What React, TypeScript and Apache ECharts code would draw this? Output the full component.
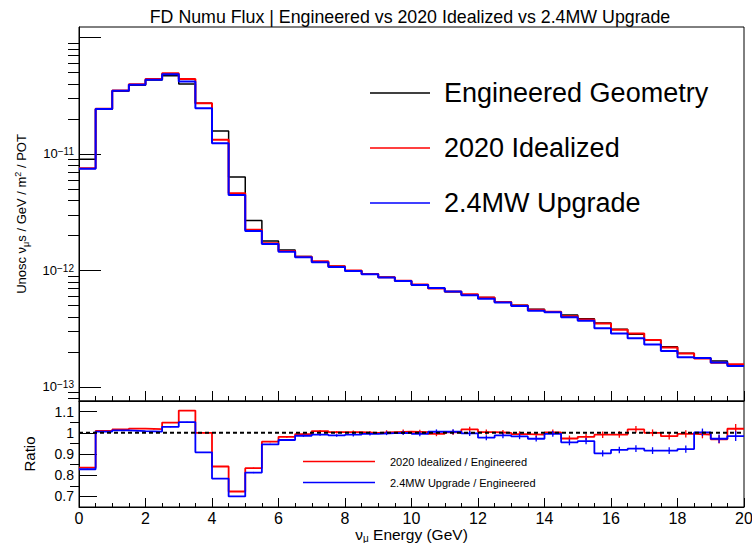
import React, { useEffect, useRef } from "react";
import * as echarts from "echarts";

const FONT = "'Liberation Sans', Arial, Helvetica, sans-serif";
const TITLE = "FD Numu Flux | Engineered vs 2020 Idealized vs 2.4MW Upgrade";

const BIN_WIDTH = 0.5;
const BIN_LOW = [
  0, 0.5, 1, 1.5, 2, 2.5, 3, 3.5, 4, 4.5, 5, 5.5, 6, 6.5, 7, 7.5, 8, 8.5, 9, 9.5,
  10, 10.5, 11, 11.5, 12, 12.5, 13, 13.5, 14, 14.5, 15, 15.5, 16, 16.5, 17, 17.5, 18, 18.5, 19, 19.5,
];

// Engineered geometry flux (nu_mu / GeV / m^2 / POT)
const ENGINEERED = [
  9.0e-12, 2.42e-11, 3.45e-11, 3.89e-11, 4.32e-11, 4.7e-11, 3.99e-11, 2.72e-11, 1.575e-11, 6.35e-12,
  2.68e-12, 1.79e-12, 1.5e-12, 1.32e-12, 1.19e-12, 1.086e-12, 9.97e-13, 9.33e-13, 8.74e-13, 8.13e-13,
  7.55e-13, 7.03e-13, 6.58e-13, 6.16e-13, 5.85e-13, 5.37e-13, 5.03e-13, 4.65e-13, 4.41e-13, 4.15e-13,
  3.86e-13, 3.54e-13, 3.13e-13, 2.83e-13, 2.53e-13, 2.22e-13, 1.95e-13, 1.77e-13, 1.67e-13, 1.54e-13,
];

// Ratio 2020 Idealized / Engineered
const RATIO_IDEALIZED = [
  0.836, 1.009, 1.016, 1.02, 1.017, 1.048, 1.105, 1.0, 0.841, 0.723,
  0.833, 0.958, 0.981, 0.994, 1.008, 1.003, 1.003, 1.0, 1.003, 1.006,
  1.003, 0.995, 1.002, 1.016, 1.003, 1.0, 0.994, 0.991, 1.002, 0.973,
  0.981, 0.991, 0.992, 1.016, 1.0, 0.984, 0.995, 0.992, 0.969, 1.019,
];

// Ratio 2.4MW Upgrade / Engineered
const RATIO_UPGRADE = [
  0.828, 1.006, 1.011, 1.008, 1.006, 1.028, 1.05, 0.908, 0.784, 0.7,
  0.8125, 0.945, 0.966, 0.986, 0.991, 0.9875, 0.991, 0.995, 0.998, 1.0,
  0.995, 1.005, 1.005, 0.997, 0.977, 0.9875, 0.983, 0.972, 0.995, 0.955,
  0.961, 0.903, 0.919, 0.925, 0.916, 0.916, 0.923, 1.002, 0.972, 0.984,
];

// statistical uncertainty on the ratios
const RATIO_ERR = [
  0.002, 0.002, 0.002, 0.002, 0.002, 0.002, 0.002, 0.002, 0.002, 0.002,
  0.003, 0.003, 0.004, 0.005, 0.005, 0.006, 0.008, 0.008, 0.009, 0.01,
  0.011, 0.011, 0.012, 0.012, 0.012, 0.013, 0.013, 0.013, 0.014, 0.014,
  0.015, 0.015, 0.015, 0.016, 0.016, 0.016, 0.017, 0.018, 0.02, 0.023,
];

const SERIES_NAMES = ["Engineered Geometry", "2020 Idealized", "2.4MW Upgrade"];
const RATIO_NAMES = ["2020 Idealized / Engineered", "2.4MW Upgrade / Engineered"];
const COLORS = ["#000000", "#ff0000", "#0000ff"];

const LOG_MAJOR = [1e-13, 1e-12, 1e-11, 1e-10];
const LOG_LABELED = [1e-13, 1e-12, 1e-11];
const LOG_MINOR = [
  8e-14, 9e-14,
  2e-13, 3e-13, 4e-13, 5e-13, 6e-13, 7e-13, 8e-13, 9e-13,
  2e-12, 3e-12, 4e-12, 5e-12, 6e-12, 7e-12, 8e-12, 9e-12,
  2e-11, 3e-11, 4e-11, 5e-11, 6e-11, 7e-11, 8e-11, 9e-11,
];
const RATIO_MAJOR = [0.7, 0.8, 0.9, 1, 1.1];
const RATIO_MINOR = [0.75, 0.85, 0.95, 1.05];

function stepData(values: number[]) {
  const d: number[][] = values.map((v, i) => [BIN_LOW[i], v]);
  d.push([BIN_LOW[BIN_LOW.length - 1] + BIN_WIDTH, values[values.length - 1]]);
  return d;
}

function errorSeries(values: number[], color: string) {
  return {
    type: "custom",
    xAxisIndex: 1,
    yAxisIndex: 2,
    silent: true,
    z: 3,
    encode: { x: 0, y: 1 },
    data: values.map((v, i) => [BIN_LOW[i] + BIN_WIDTH / 2, v, RATIO_ERR[i]]),
    renderItem: (params: any, api: any) => {
      const x = api.value(0);
      const y = api.value(1);
      const e = api.value(2);
      const p1 = api.coord([x, y - e]);
      const p2 = api.coord([x, y + e]);
      return {
        type: "line",
        shape: { x1: p1[0], y1: p1[1], x2: p2[0], y2: p2[1] },
        style: { stroke: color, lineWidth: 1.3 },
      };
    },
  };
}

const axisLineStyle = { show: true, onZero: false, lineStyle: { color: "#000", width: 1 } };

export default function App() {
  const ref = useRef<HTMLDivElement>(null);
  useEffect(() => {
    if (!ref.current) return;
    const chart = echarts.init(ref.current, null, { renderer: "svg" });
    const fluxes = [
      ENGINEERED,
      ENGINEERED.map((v, i) => v * RATIO_IDEALIZED[i]),
      ENGINEERED.map((v, i) => v * RATIO_UPGRADE[i]),
    ];
    const option: any = {
      animation: false,
      backgroundColor: "#ffffff",
      textStyle: { fontFamily: FONT },
      graphic: [
        {
          type: "text",
          x: 410,
          y: 17,
          style: {
            text: TITLE,
            fontSize: 17.8,
            fontFamily: FONT,
            fill: "#000",
            align: "center",
            verticalAlign: "middle",
          },
        },
      ],
      grid: [
        { left: 79, top: 27, width: 665, height: 374, show: true, borderColor: "#000", borderWidth: 1, backgroundColor: "transparent", containLabel: false, outerBoundsMode: "none" },
        { left: 79, top: 401, width: 665, height: 106, show: true, borderColor: "#000", borderWidth: 1, backgroundColor: "transparent", containLabel: false, outerBoundsMode: "none" },
      ],
      legend: [
        {
          data: SERIES_NAMES,
          orient: "vertical",
          left: 370,
          top: 78,
          padding: 0,
          itemWidth: 60,
          itemHeight: 1.3,
          itemGap: 25,
          icon: "rect",
          selectedMode: false,
          textStyle: { fontSize: 27, lineHeight: 30, color: "#000", fontFamily: FONT, padding: [0, 0, 0, 9] },
        },
        {
          data: RATIO_NAMES,
          orient: "vertical",
          left: 303,
          top: 455,
          padding: 0,
          itemWidth: 72,
          itemHeight: 1.3,
          itemGap: 8,
          icon: "rect",
          selectedMode: false,
          textStyle: { fontSize: 11, lineHeight: 13, color: "#000", fontFamily: FONT, padding: [0, 0, 0, 10] },
        },
      ],
      xAxis: [
        {
          gridIndex: 0,
          type: "value",
          min: 0,
          max: 20,
          interval: 2,
          axisLine: axisLineStyle,
          axisTick: { show: true, inside: true, length: 10, lineStyle: { color: "#000" } },
          minorTick: { show: true, splitNumber: 4, length: 5, lineStyle: { color: "#000" } },
          axisLabel: { show: false },
          splitLine: { show: false },
        },
        {
          gridIndex: 1,
          type: "value",
          min: 0,
          max: 20,
          interval: 2,
          axisLine: axisLineStyle,
          axisTick: { show: true, inside: true, length: 9, lineStyle: { color: "#000" } },
          minorTick: { show: true, splitNumber: 4, length: 4, lineStyle: { color: "#000" } },
          axisLabel: { show: true, fontSize: 16, color: "#000", fontFamily: FONT, margin: 3 },
          splitLine: { show: false },
          name: "{a|ν}{s|μ}{a| Energy (GeV)}",
          nameLocation: "middle",
          nameGap: 11,
          nameTextStyle: {
            color: "#000",
            rich: {
              a: { fontSize: 15.5, fontFamily: FONT, color: "#000", lineHeight: 18 },
              s: { fontSize: 10, fontFamily: FONT, color: "#000", verticalAlign: "bottom", lineHeight: 12 },
            },
          },
        },
      ],
      yAxis: [
        {
          gridIndex: 0,
          type: "log",
          logBase: 10,
          min: 7.58e-14,
          max: 1.23e-10,
          axisLine: axisLineStyle,
          axisTick: { show: true, inside: true, length: 22, customValues: LOG_MAJOR, lineStyle: { color: "#000" } },
          axisLabel: {
            show: true,
            customValues: LOG_LABELED,
            margin: 5,
            formatter: (v: number) => {
              const e = Math.round(Math.log10(v));
              return "{b|10}{e|" + (e < 0 ? "\u2212" + -e : String(e)) + "}";
            },
            rich: {
              b: { fontSize: 13, fontFamily: FONT, color: "#000", lineHeight: 14 },
              e: { fontSize: 10, fontFamily: FONT, color: "#000", verticalAlign: "top", lineHeight: 10 },
            },
          },
          splitLine: { show: false },
          name: "{t|Unosc ν}{sb|μ}{t|s / GeV / m}{sp|2}{t| / POT}",
          nameLocation: "middle",
          nameGap: 49,
          nameTextStyle: {
            color: "#000",
            rich: {
              t: { fontSize: 13, fontFamily: FONT, color: "#000", lineHeight: 17 },
              sb: { fontSize: 9, fontFamily: FONT, color: "#000", verticalAlign: "bottom", lineHeight: 10 },
              sp: { fontSize: 9, fontFamily: FONT, color: "#000", verticalAlign: "top", lineHeight: 10 },
            },
          },
        },
        {
          gridIndex: 0,
          type: "log",
          logBase: 10,
          min: 7.58e-14,
          max: 1.23e-10,
          axisLine: { show: false },
          axisTick: { show: true, inside: true, length: 11, customValues: LOG_MINOR, lineStyle: { color: "#000" } },
          axisLabel: { show: false },
          splitLine: { show: false },
        },
        {
          gridIndex: 1,
          type: "value",
          min: 0.65,
          max: 1.15,
          axisLine: axisLineStyle,
          axisTick: { show: true, inside: true, length: 18, customValues: RATIO_MAJOR, lineStyle: { color: "#000" } },
          axisLabel: { show: true, customValues: RATIO_MAJOR, fontSize: 14, color: "#000", fontFamily: FONT, margin: 5 },
          splitLine: { show: false },
          name: "Ratio",
          nameLocation: "middle",
          nameGap: 42,
          nameTextStyle: { fontSize: 15, fontFamily: FONT, color: "#000" },
        },
        {
          gridIndex: 1,
          type: "value",
          min: 0.65,
          max: 1.15,
          axisLine: { show: false },
          axisTick: { show: true, inside: true, length: 9, customValues: RATIO_MINOR, lineStyle: { color: "#000" } },
          axisLabel: { show: false },
          splitLine: { show: false },
        },
      ],
      series: [
        ...SERIES_NAMES.map((name, k) => ({
          name,
          type: "line",
          xAxisIndex: 0,
          yAxisIndex: 0,
          step: "end",
          symbol: "none",
          color: COLORS[k],
          itemStyle: { color: COLORS[k] },
          lineStyle: { color: COLORS[k], width: k === 0 ? 1.5 : 2 },
          data: stepData(fluxes[k]),
          z: 2 + k,
        })),
        {
          name: RATIO_NAMES[0],
          type: "line",
          xAxisIndex: 1,
          yAxisIndex: 2,
          step: "end",
          symbol: "none",
          color: COLORS[1],
          itemStyle: { color: COLORS[1] },
          lineStyle: { color: COLORS[1], width: 1.8 },
          data: stepData(RATIO_IDEALIZED),
          z: 2,
        },
        {
          name: RATIO_NAMES[1],
          type: "line",
          xAxisIndex: 1,
          yAxisIndex: 2,
          step: "end",
          symbol: "none",
          color: COLORS[2],
          itemStyle: { color: COLORS[2] },
          lineStyle: { color: COLORS[2], width: 1.8 },
          data: stepData(RATIO_UPGRADE),
          z: 3,
        },
        errorSeries(RATIO_IDEALIZED, COLORS[1]),
        errorSeries(RATIO_UPGRADE, COLORS[2]),
        {
          name: "unity",
          type: "line",
          xAxisIndex: 1,
          yAxisIndex: 2,
          symbol: "none",
          silent: true,
          data: [[0, 1], [20, 1]],
          lineStyle: { color: "#000", width: 2, type: [4, 3] },
          z: 5,
        },
      ],
    };
    chart.setOption(option);
    return () => chart.dispose();
  }, []);
  return <div ref={ref} style={{ position: "absolute", left: 0, top: 0, width: 752, height: 543 }} />;
}
